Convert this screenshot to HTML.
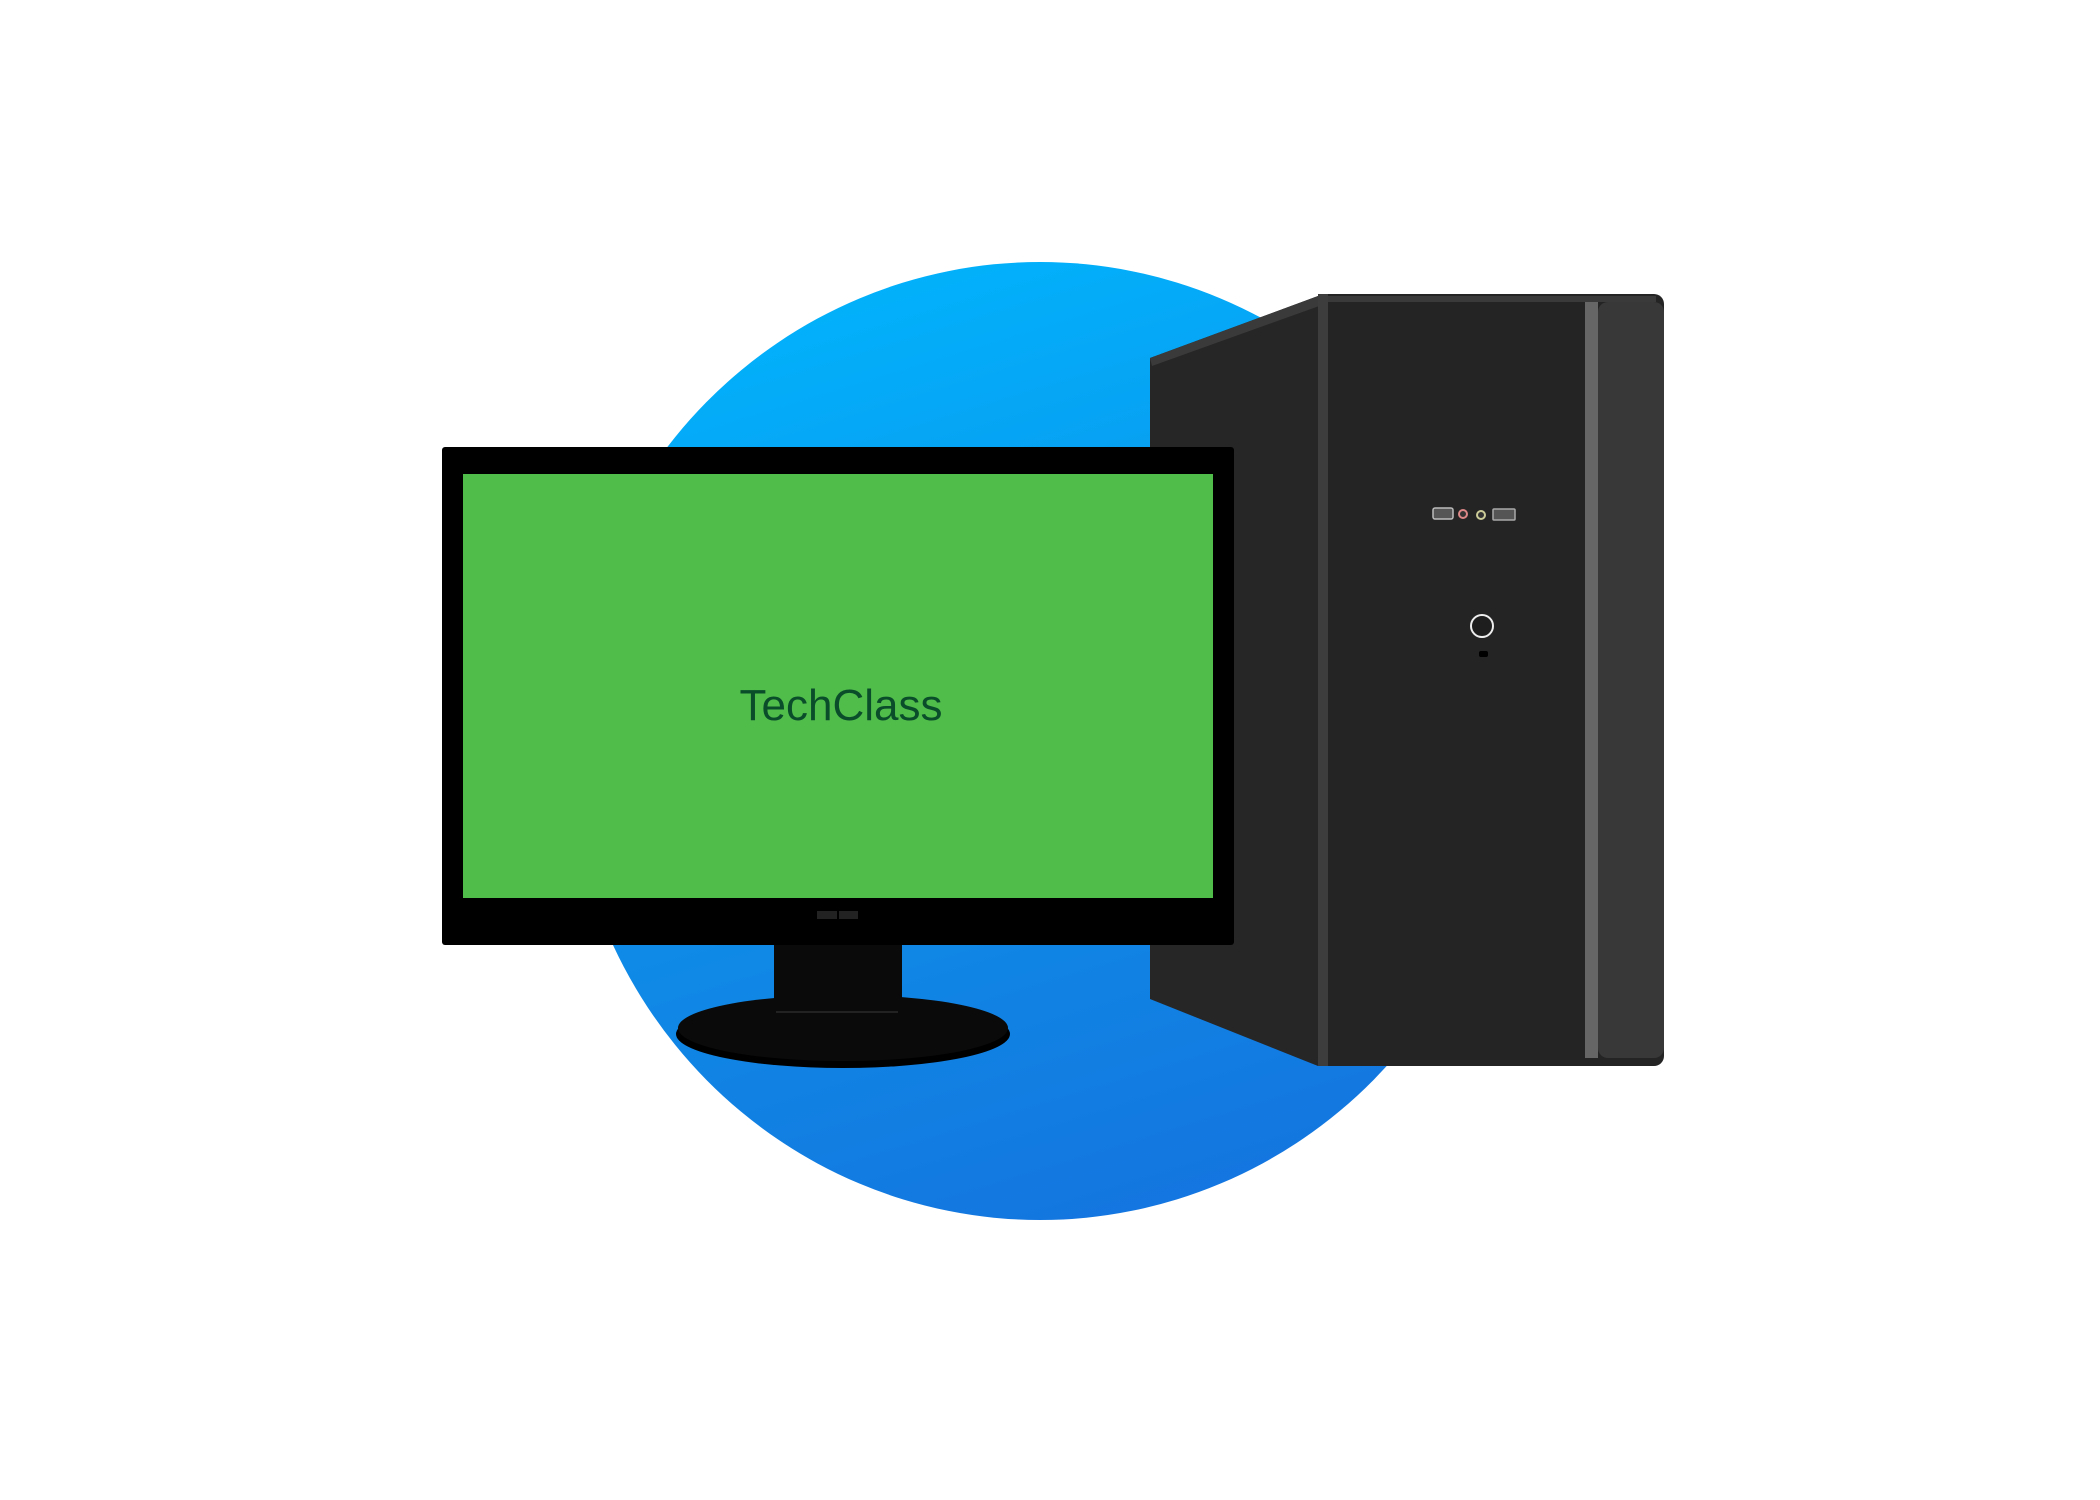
<!DOCTYPE html>
<html><head><meta charset="utf-8"><style>
html,body{margin:0;padding:0;background:#fff;}
svg{display:block}
</style></head><body>
<svg width="2100" height="1500" viewBox="0 0 2100 1500" xmlns="http://www.w3.org/2000/svg">
<defs>
<linearGradient id="bg" x1="0.4" y1="0" x2="0.7" y2="1">
<stop offset="0" stop-color="#02b1fb"/>
<stop offset="0.5" stop-color="#0e8ee8"/>
<stop offset="1" stop-color="#1474df"/>
</linearGradient>
</defs>
<ellipse cx="1040" cy="741" rx="472" ry="479" fill="url(#bg)"/>
<!-- tower -->
<polygon points="1150,358 1318,296 1318,1066 1150,999" fill="#262626"/>
<polygon points="1150,358 1318,296 1322,296 1322,305 1152,366" fill="#3a3a3a"/>
<rect x="1318" y="294" width="346" height="772" rx="10" fill="#242424"/>
<rect x="1318" y="294" width="10" height="772" fill="#3d3d3d"/>
<rect x="1585" y="302" width="13" height="756" fill="#666"/>
<rect x="1598" y="302" width="66" height="756" rx="10" fill="#383838"/>
<rect x="1328" y="296" width="328" height="6" fill="#3a3a3a"/>
<!-- ports -->
<rect x="1433" y="508" width="20" height="11" rx="2" fill="#555" stroke="#bbb" stroke-width="1.5"/>
<circle cx="1463" cy="514" r="4" fill="#333" stroke="#d88" stroke-width="2"/>
<circle cx="1481" cy="515" r="4" fill="#333" stroke="#cc9" stroke-width="2"/>
<rect x="1493" y="509" width="22" height="11" rx="1" fill="#555" stroke="#aaa" stroke-width="1.5"/>
<circle cx="1482" cy="626" r="11" fill="#1e1e1e" stroke="#eee" stroke-width="2"/>
<rect x="1479" y="651" width="9" height="6" rx="2" fill="#000"/>
<!-- monitor -->
<rect x="774" y="940" width="128" height="80" fill="#0a0a0a"/>
<ellipse cx="843" cy="1034" rx="167" ry="34" fill="#000"/>
<ellipse cx="843" cy="1028" rx="165" ry="33" fill="#0a0a0a"/>
<line x1="776" y1="1012" x2="898" y2="1012" stroke="#222" stroke-width="2"/>
<rect x="442" y="447" width="792" height="498" rx="3" fill="#000"/>
<rect x="463" y="474" width="750" height="424" fill="#50bd4a"/>
<rect x="817" y="911" width="20" height="8" fill="#222"/>
<rect x="839" y="911" width="19" height="8" fill="#222"/>
<text x="841" y="720" text-anchor="middle" font-family="Liberation Sans, sans-serif" font-size="44" fill="#0a4d2a">TechClass</text>
</svg>
</body></html>
